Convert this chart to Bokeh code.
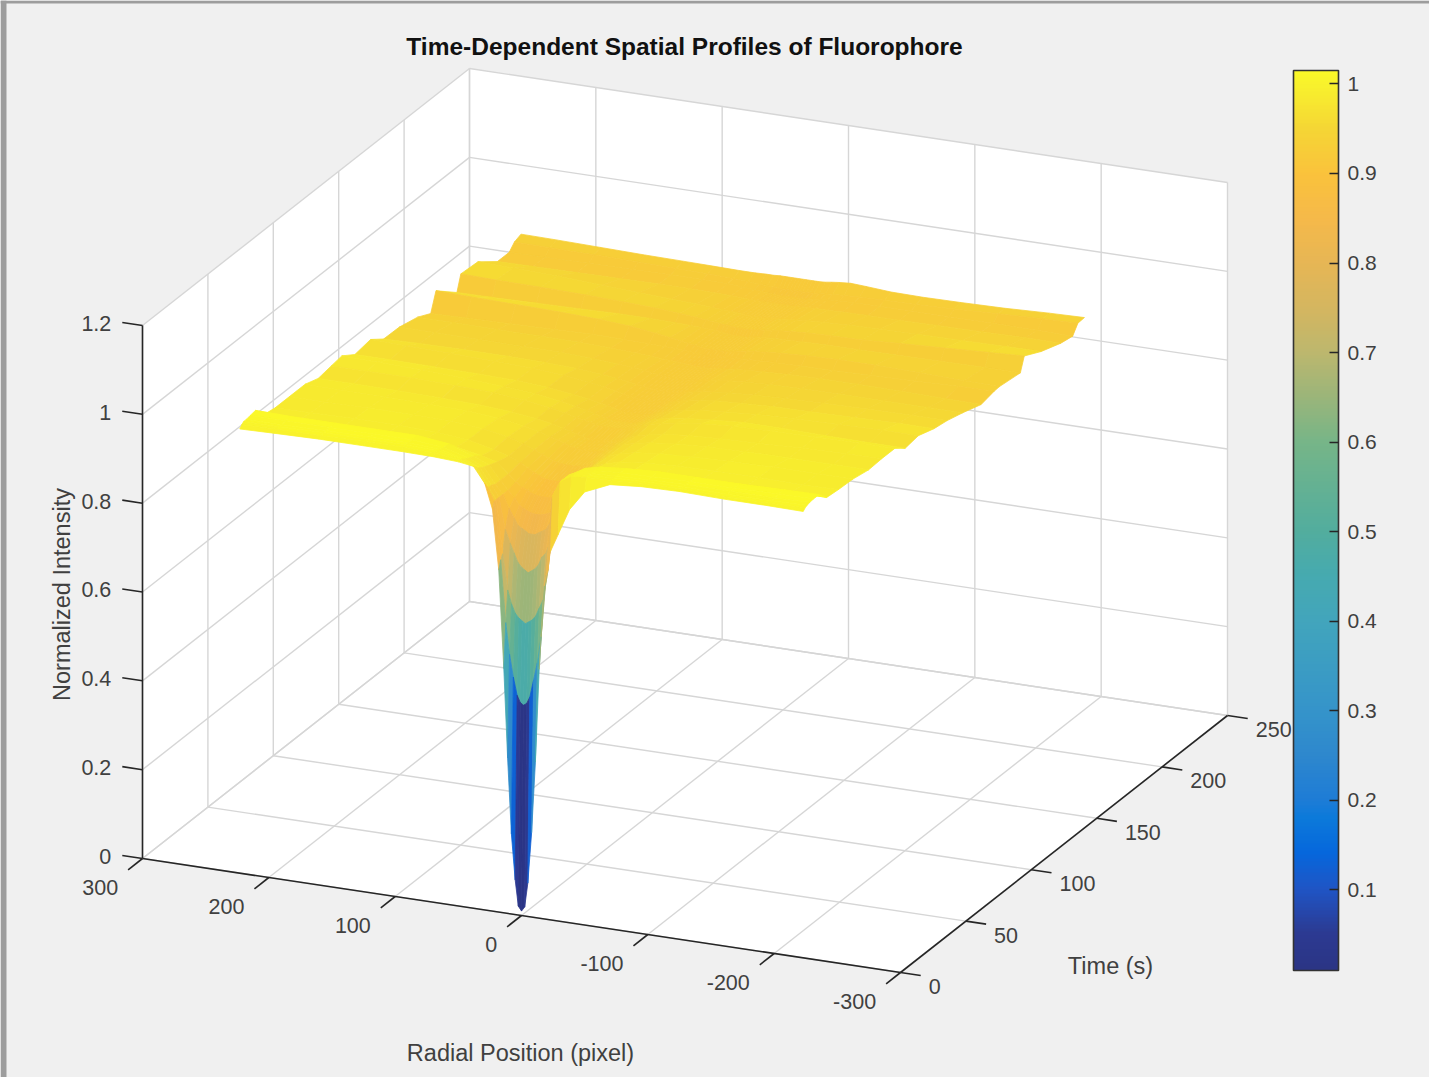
import numpy as np
from bokeh.embed import file_html
from bokeh.resources import INLINE
from bokeh.plotting import figure
from bokeh.models import ColumnDataSource, ColorBar, LinearColorMapper, FixedTicker, Range1d
from bokeh.core.properties import value

TITLE = "Time-Dependent Spatial Profiles of Fluorophore"
XLABEL = "Radial Position (pixel)"
YLABEL = "Time (s)"
ZLABEL = "Normalized Intensity"
x_ticks = [300, 200, 100, 0, -100, -200, -300]
t_ticks = [0, 50, 100, 150, 200, 250]
z_ticks = [0, 0.2, 0.4, 0.6, 0.8, 1.0, 1.2]
z_tick_labels = ["0", "0.2", "0.4", "0.6", "0.8", "1", "1.2"]
cbar_ticks = [0.1, 0.2, 0.3, 0.4, 0.5, 0.6, 0.7, 0.8, 0.9, 1.0]

radial = [223, 195, 160, 125, 95, 70, 50, 38, 29, 23, 18, 14, 11, 8, 5, 2.5, 0,
          -2.5, -5, -8, -11, -14, -18, -23, -29, -38, -50, -70, -95, -125, -160, -195, -223]
times = [0, 1.5, 3, 5, 8, 12, 18, 27, 38, 50, 60, 70, 78, 88, 100, 110, 122, 136,
         146, 150, 166, 169, 182, 197, 206, 210, 215]
intensity = [
 [1.000,1.002,1.004,1.004,1.004,1.003,1.000,.995,.96,.905,.77,.55,.35,.18,.078,.02,.01,.02,.075,.19,.35,.56,.75,.83,.87,.93,.975,1.000,1.006,1.008,1.006,1.006,1.005],
 [1.006,1.008,1.008,1.010,1.010,1.008,1.000,.99,.95,.92,.79,.65,.58,.53,.49,.475,.47,.475,.49,.53,.57,.63,.77,.95,.985,1.0,1.004,1.006,1.010,1.010,1.008,1.008,1.010],
 [1.010,1.010,1.012,1.012,1.012,1.010,1.000,.985,.945,.92,.80,.72,.69,.67,.66,.655,.65,.655,.66,.67,.69,.71,.78,.955,.985,1.0,1.005,1.008,1.010,1.012,1.010,1.010,1.012],
 [1.010,1.010,1.012,1.012,1.012,1.008,.995,.98,.945,.92,.85,.82,.80,.78,.77,.765,.76,.765,.77,.78,.80,.81,.84,.96,.985,1.0,1.005,1.008,1.010,1.012,1.012,1.012,1.014],
 [1.012,1.012,1.012,1.012,1.012,1.005,.99,.975,.94,.92,.89,.87,.855,.85,.845,.84,.84,.84,.845,.85,.855,.87,.89,.96,.985,.998,1.005,1.008,1.010,1.012,1.012,1.014,1.015],
 [1.014,1.012,1.012,1.012,1.012,1.004,.985,.97,.94,.92,.905,.89,.885,.88,.877,.875,.875,.875,.877,.88,.885,.895,.91,.965,.98,.995,1.003,1.008,1.012,1.012,1.012,1.014,1.015],
 [.99,.99,.99,.99,.99,.983,.972,.963,.94,.925,.915,.91,.905,.902,.90,.90,.90,.90,.90,.902,.905,.912,.925,.95,.965,.975,.985,.99,.995,.995,.995,.995,.995],
 [.985,.986,.988,.988,.985,.978,.965,.955,.945,.935,.928,.922,.918,.916,.915,.915,.915,.915,.916,.917,.92,.924,.93,.945,.96,.97,.98,.986,.99,.992,.992,.99,.992],
 [.985,.985,.986,.986,.985,.978,.968,.958,.948,.94,.934,.93,.928,.926,.925,.925,.925,.925,.926,.927,.93,.934,.94,.948,.958,.968,.975,.982,.985,.988,.99,.99,.99],
 [.985,.984,.984,.982,.98,.974,.965,.957,.95,.945,.94,.936,.934,.932,.93,.93,.93,.93,.931,.932,.934,.937,.942,.95,.957,.963,.97,.976,.98,.982,.983,.983,.983],
 [.975,.975,.974,.972,.97,.965,.958,.952,.946,.941,.937,.934,.932,.931,.93,.93,.93,.93,.931,.932,.934,.937,.941,.947,.953,.96,.966,.972,.975,.978,.982,.984,.985],
 [.98,.98,.98,.978,.975,.968,.96,.953,.947,.943,.94,.938,.936,.935,.935,.935,.935,.935,.935,.936,.938,.94,.944,.95,.956,.962,.968,.975,.98,.982,.984,.985,.985],
 [.984,.982,.98,.975,.97,.964,.956,.95,.944,.94,.936,.933,.931,.93,.93,.93,.93,.93,.93,.931,.933,.936,.94,.945,.95,.956,.96,.965,.97,.97,.968,.967,.967],
 [.964,.964,.963,.962,.96,.955,.948,.943,.938,.934,.931,.928,.926,.925,.925,.925,.925,.925,.925,.926,.928,.931,.935,.94,.945,.95,.955,.96,.965,.968,.97,.972,.972],
 [.97,.968,.966,.963,.96,.955,.948,.942,.937,.933,.93,.928,.926,.925,.925,.925,.925,.925,.925,.926,.928,.93,.933,.937,.941,.945,.949,.952,.955,.956,.958,.96,.96],
 [.948,.95,.951,.951,.95,.947,.942,.938,.934,.931,.929,.927,.926,.925,.925,.925,.925,.925,.925,.926,.927,.929,.931,.934,.937,.94,.944,.947,.95,.952,.954,.955,.955],
 [.947,.947,.946,.945,.945,.942,.938,.935,.932,.93,.928,.927,.926,.925,.925,.925,.925,.925,.925,.926,.927,.928,.93,.932,.935,.938,.94,.943,.945,.945,.945,.945,.945],
 [.937,.937,.936,.936,.935,.933,.93,.928,.926,.925,.924,.923,.922,.921,.92,.92,.92,.92,.92,.921,.922,.923,.924,.925,.927,.929,.931,.933,.935,.935,.934,.932,.931],
 [.922,.924,.926,.928,.93,.929,.928,.927,.926,.925,.924,.923,.922,.921,.92,.92,.92,.92,.92,.921,.922,.923,.924,.925,.926,.927,.928,.929,.93,.932,.934,.937,.938],
 [.964,.962,.96,.958,.955,.95,.943,.938,.934,.931,.929,.927,.926,.925,.925,.925,.925,.925,.925,.926,.927,.929,.931,.933,.935,.937,.94,.943,.945,.945,.943,.94,.939],
 [.923,.924,.926,.928,.93,.93,.929,.928,.927,.926,.925,.924,.923,.921,.92,.92,.92,.92,.92,.921,.923,.924,.925,.926,.927,.928,.929,.93,.93,.931,.932,.933,.933],
 [.958,.956,.955,.953,.95,.947,.943,.94,.937,.935,.934,.933,.932,.931,.93,.93,.93,.93,.93,.931,.932,.933,.934,.936,.938,.94,.942,.944,.945,.95,.955,.96,.964],
 [.955,.953,.95,.945,.94,.937,.934,.932,.93,.929,.928,.927,.926,.925,.925,.925,.925,.925,.925,.926,.927,.928,.929,.93,.932,.934,.936,.938,.94,.941,.942,.943,.944],
 [.921,.922,.923,.924,.925,.925,.924,.923,.922,.921,.921,.92,.92,.92,.92,.92,.92,.92,.92,.92,.92,.921,.921,.922,.923,.923,.924,.925,.925,.926,.927,.928,.928],
 [.921,.922,.923,.924,.925,.925,.924,.922,.92,.918,.917,.916,.915,.915,.915,.915,.915,.915,.915,.915,.916,.917,.918,.92,.922,.923,.924,.925,.925,.925,.925,.924,.923],
 [.935,.934,.933,.932,.93,.929,.927,.925,.923,.922,.921,.92,.92,.92,.92,.92,.92,.92,.92,.92,.92,.921,.922,.923,.925,.926,.928,.929,.93,.933,.937,.941,.943],
 [.941,.94,.938,.936,.935,.934,.933,.933,.934,.934,.935,.935,.935,.935,.935,.935,.935,.935,.935,.935,.935,.935,.936,.938,.94,.942,.94,.936,.935,.936,.938,.942,.944],
]
# Colour of the first (front) strip of cells, one value per cell
front_strip = [1.0,1.003,1.004,1.004,1.004,1.002,.998,.975,.90,.84,.63,.425,.265,.128,.048,.015,
               .015,.045,.125,.27,.44,.65,.81,.94,.975,.99,1.0,1.005,1.007,1.007,1.006,1.005]

# Colour map
c_stops = [0.01, 0.05, 0.1, 0.14, 0.18, 0.2, 0.25, 0.3, 0.4, 0.45, 0.5, 0.6, 0.65, 0.7, 0.75, 0.8, 0.85, 0.9, 0.95, 1.0, 1.015]
c_hex = ["#2b3585", "#2c3a92", "#1f55c5", "#0667dc", "#0c7ada", "#1e7cd6", "#2e88cd", "#3594ca", "#42a5bc", "#46aab0",
         "#52ad9e", "#76b588", "#9ab57a", "#bcb76e", "#d4b660", "#e6b655", "#f5b94a", "#fac23c", "#f5d535", "#f8f12d", "#fbf828"]
rgb = np.array([[int(h[i:i+2], 16) for i in (1, 3, 5)] for h in c_hex], float)
grid_z = np.linspace(0.01, 1.015, 256)
palette = ["#%02x%02x%02x" % tuple(int(round(np.interp(g, c_stops, rgb[:, k]))) for k in range(3)) for g in grid_z]
mapper = LinearColorMapper(palette=palette, low=0.01, high=1.015)

XLIM = (-300, 300)
TLIM = (0, 250)
ZLIM = (0, 1.2)

def project(x, t, z):
    """Fixed parallel view of the 3-D box onto the page."""
    x, t, z = np.asarray(x, float), np.asarray(t, float), np.asarray(z, float)
    u = (300 - x) / 600
    v = t / 250
    w = z / 1.2
    return 142 + 758 * u + 327 * v, 858 + 114 * u - 257 * v - 533 * w

W, H = 1429, 1077
p = figure(width=W, height=H, output_backend="svg", toolbar_location=None,
           x_range=Range1d(0, W), y_range=Range1d(H, 0),
           x_axis_type=None, y_axis_type=None, min_border=0,
           background_fill_color="#f0f0f0", border_fill_color="#f0f0f0", outline_line_color=None)
p.grid.visible = False

# Window frame at the left and top of the screenshot
p.quad(left=[0, 0], right=[6, W], top=[0, 0], bottom=[H, 3], fill_color="#9d9d9d", line_color=None)

# Box walls and floor
x0, x1 = XLIM[1], XLIM[0]
t0, t1 = TLIM
z0, z1 = ZLIM
walls = [([x0, x0, x0, x0], [t0, t1, t1, t0], [z0, z0, z1, z1]),
         ([x0, x1, x1, x0], [t1, t1, t1, t1], [z0, z0, z1, z1]),
         ([x0, x1, x1, x0], [t0, t0, t1, t1], [z0, z0, z0, z0])]
for wx, wt, wz in walls:
    sx, sy = project(wx, wt, wz)
    p.patch(list(sx), list(sy), fill_color="white", line_color=None)

# Grid lines
gx, gy = [], []
def seg(a, b):
    sx, sy = project([a[0], b[0]], [a[1], b[1]], [a[2], b[2]])
    gx.append(list(sx)); gy.append(list(sy))
for x in x_ticks:
    seg((x, t0, z0), (x, t1, z0)); seg((x, t1, z0), (x, t1, z1))
for t in t_ticks:
    seg((x0, t, z0), (x1, t, z0)); seg((x0, t, z0), (x0, t, z1))
for z in z_ticks:
    seg((x0, t0, z), (x0, t1, z)); seg((x0, t1, z), (x1, t1, z))
p.multi_line(gx, gy, line_color="#d6d6d6", line_width=1.4)

# Surface, painted from the far cells to the near ones
Z = np.array(intensity)
xs_cells, ys_cells, c_cells = [], [], []
for i in range(len(times) - 2, -1, -1):
    for j in range(len(radial) - 1):
        cx = [radial[j], radial[j + 1], radial[j + 1], radial[j]]
        ct = [times[i], times[i], times[i + 1], times[i + 1]]
        cz = [Z[i, j], Z[i, j + 1], Z[i + 1, j + 1], Z[i + 1, j]]
        sx, sy = project(cx, ct, cz)
        xs_cells.append(list(sx)); ys_cells.append(list(sy))
        c_cells.append(front_strip[j] if i == 0 else 0.5 * (Z[i, j] + Z[i, j + 1]))
surf = ColumnDataSource(dict(xs=xs_cells, ys=ys_cells, c=c_cells))
cmap = {"field": "c", "transform": mapper}
p.patches("xs", "ys", source=surf, fill_color=cmap, line_color=cmap, line_width=0.8)

# Axis lines and tick marks
TICK_X = 16.0
TICK_T = 11.0
ax, ay = [], []
def aseg(a, b):
    sx, sy = project([a[0], b[0]], [a[1], b[1]], [a[2], b[2]])
    ax.append(list(sx)); ay.append(list(sy))
aseg((x0, t0, z0), (x0, t0, z1))
aseg((x0, t0, z0), (x1, t0, z0))
aseg((x1, t0, z0), (x1, t1, z0))
for x in x_ticks:
    aseg((x, t0, z0), (x, t0 - TICK_T, z0))
for t in t_ticks:
    aseg((x1, t, z0), (x1 - TICK_X, t, z0))
for z in z_ticks:
    aseg((x0, t0, z), (x0 + TICK_X, t0, z))
p.multi_line(ax, ay, line_color="#262626", line_width=1.6)

FONT = value("Liberation Sans")
TICK_COLOR = "#404040"
def labels(sx, sy, texts, align, baseline="middle", dx=0, dy=0, size="21.5px", color=TICK_COLOR, style="normal", angle=0):
    p.text(list(sx), list(sy), text=texts, text_align=align, text_baseline=baseline, x_offset=dx, y_offset=dy,
           text_font=FONT, text_font_size=size, text_color=color, text_font_style=style, angle=angle)

sx, sy = project(x_ticks, [t0 - TICK_T] * len(x_ticks), [z0] * len(x_ticks))
labels(sx, sy, [str(v) for v in x_ticks], "right", dx=-10, dy=18)
sx, sy = project([x1 - TICK_X] * len(t_ticks), t_ticks, [z0] * len(t_ticks))
labels(sx, sy, [str(v) for v in t_ticks], "left", dx=8, dy=11)
sx, sy = project([x0 + TICK_X] * len(z_ticks), [t0] * len(z_ticks), z_ticks)
labels(sx, sy, z_tick_labels, "right", dx=-11, dy=1)

labels([684], [46], [TITLE], "center", size="24.5px", color="#111111", style="bold")
labels([520], [1052], [XLABEL], "center", size="23.5px")
labels([1110], [965], [YLABEL], "center", size="23.5px")
labels([61], [594], [ZLABEL], "center", size="23.5px", angle=np.pi / 2)

# Colour bar
cb = ColorBar(color_mapper=mapper, width=45, height=900, location=(1293, 107), padding=0, margin=0,
              ticker=FixedTicker(ticks=cbar_ticks), major_label_overrides={1.0: "1", 1: "1"},
              major_tick_in=9, major_tick_out=0, major_tick_line_color="#262626", major_tick_line_width=1.5,
              minor_tick_line_color=None, bar_line_color="#333333", bar_line_width=1.6,
              major_label_text_font="Liberation Sans", major_label_text_font_size="21px",
              major_label_text_color=TICK_COLOR, label_standoff=9,
              background_fill_alpha=0, border_line_color=None)
p.add_layout(cb)

open("out.html", "w").write(file_html(p, INLINE))
